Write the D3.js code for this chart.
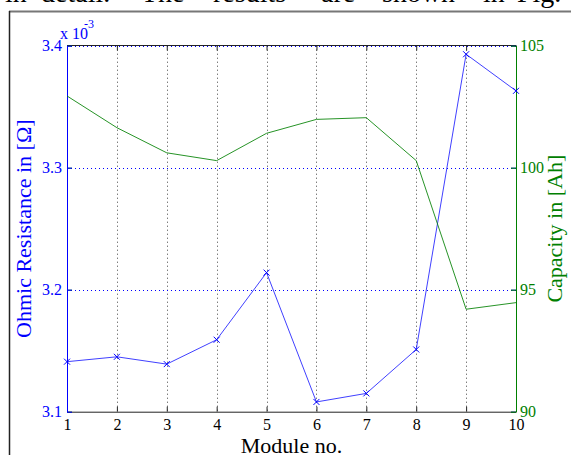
<!DOCTYPE html>
<html>
<head>
<meta charset="utf-8">
<script src="https://cdn.jsdelivr.net/npm/d3@7"></script>
<style>
  body { margin: 0; background: #fff; }
  svg { display: block; font-family: 'Liberation Serif', 'Times New Roman', serif; }
</style>
</head>
<body>
<svg class="chartSVG" width="571" height="455"></svg>
<script>
// module numbers and the two measured series
const modules = [1, 2, 3, 4, 5, 6, 7, 8, 9, 10];
const ohmic = [3.141, 3.145, 3.139, 3.159, 3.214, 3.108, 3.115, 3.151, 3.393, 3.363]; // x 10^-3 Ohm
const capacity = [102.94, 101.64, 100.61, 100.29, 101.41, 101.98, 102.05, 100.29, 94.2, 94.47]; // Ah

const ohmTicks = [3.1, 3.2, 3.3, 3.4];
const capTicks = [90, 95, 100, 105];

// words of the running text cut off above the figure
const headWords = [
  {w: 'in', x: 5}, {w: 'detail.', x: 41}, {w: 'The', x: 141}, {w: 'results', x: 213},
  {w: 'are', x: 321}, {w: 'shown', x: 382}, {w: 'in', x: 483}, {w: 'Fig.', x: 517}
];

const blue = '#0000ff';
const green = '#008000';

const svg = d3.select('svg.chartSVG');

const x = d3.scaleLinear().domain([1, 10]).range([67, 516]);
const yL = d3.scaleLinear().domain([3.1, 3.4]).range([411.7, 45.7]);
const yR = d3.scaleLinear().domain([90, 105]).range([411.7, 45.7]);

// page text cut by the crop
svg.append('g')
  .selectAll('text')
  .data(headWords)
  .enter()
  .append('text')
  .attr('x', d => d.x)
  .attr('y', 2)
  .style('font-size', '28px')
  .style('fill', '#000')
  .text(d => d.w);

// figure frame
svg.append('line').attr('x1', 9).attr('x2', 571).attr('y1', 11.5).attr('y2', 11.5)
  .style('stroke', '#777').style('stroke-width', 2);
svg.append('line').attr('x1', 9.5).attr('x2', 9.5).attr('y1', 11).attr('y2', 455)
  .style('stroke', '#222').style('stroke-width', 1.5);

// grid
const grid = svg.append('g').attr('class', 'grid');
grid.selectAll('line.vgrid')
  .data(modules.slice(1, -1))
  .enter()
  .append('line')
  .attr('x1', d => Math.round(x(d)) + 0.5)
  .attr('x2', d => Math.round(x(d)) + 0.5)
  .attr('y1', yL(3.4))
  .attr('y2', yL(3.1))
  .style('stroke', '#444')
  .style('stroke-dasharray', '1,3');

grid.selectAll('line.hgrid')
  .data(ohmTicks.slice(1))
  .enter()
  .append('line')
  .attr('x1', x(1))
  .attr('x2', x(10))
  .attr('y1', d => Math.round(yL(d)) + 0.5)
  .attr('y2', d => Math.round(yL(d)) + 0.5)
  .style('stroke', blue)
  .style('stroke-dasharray', '1,3');

// top border and top ticks
svg.append('line').attr('x1', x(1)).attr('x2', x(10)).attr('y1', 45.5).attr('y2', 45.5)
  .style('stroke', '#222');
svg.append('g')
  .attr('transform', 'translate(0,45.5)')
  .call(d3.axisTop(x).tickValues(modules).tickSize(-5).tickFormat(''))
  .call(g => g.select('.domain').remove())
  .selectAll('line').style('stroke', '#222');

// mirrored ticks of each y axis on the opposite side
svg.append('g')
  .attr('transform', `translate(${x(10)},0)`)
  .call(d3.axisRight(yL).tickValues(ohmTicks).tickSize(-5).tickFormat(''))
  .call(g => g.select('.domain').remove())
  .selectAll('line').style('stroke', blue);
svg.append('g')
  .attr('transform', `translate(${x(1)},0)`)
  .call(d3.axisLeft(yR).tickValues(capTicks).tickSize(-5).tickFormat(''))
  .call(g => g.select('.domain').remove())
  .selectAll('line').style('stroke', green);

// bottom axis
const xAxis = svg.append('g')
  .attr('transform', 'translate(0,411.7)')
  .call(d3.axisBottom(x).tickValues(modules).tickSize(-5).tickSizeOuter(0).tickPadding(7));
xAxis.select('.domain').style('stroke', '#222');
xAxis.selectAll('line').style('stroke', '#222');
xAxis.selectAll('text').style('font-size', '16px').style('fill', '#000')
  .style('font-family', "'Liberation Serif', serif");

// left axis
const lAxis = svg.append('g')
  .attr('transform', `translate(${x(1)},0)`)
  .call(d3.axisLeft(yL).tickValues(ohmTicks).tickFormat(d3.format('.1f'))
    .tickSize(-5).tickSizeOuter(0).tickPadding(5));
lAxis.select('.domain').style('stroke', blue);
lAxis.selectAll('line').style('stroke', blue);
lAxis.selectAll('text').style('font-size', '16px').style('fill', blue)
  .style('font-family', "'Liberation Serif', serif");

// right axis
const rAxis = svg.append('g')
  .attr('transform', `translate(${x(10)},0)`)
  .call(d3.axisRight(yR).tickValues(capTicks).tickSize(-5).tickSizeOuter(0).tickPadding(4));
rAxis.select('.domain').style('stroke', green);
rAxis.selectAll('line').style('stroke', green);
rAxis.selectAll('text').style('font-size', '16px').style('fill', green)
  .style('font-family', "'Liberation Serif', serif");

// series
const ohmLine = d3.line().x((d, i) => x(modules[i])).y(d => yL(d));
const capLine = d3.line().x((d, i) => x(modules[i])).y(d => yR(d));

svg.append('path')
  .datum(ohmic)
  .attr('d', ohmLine)
  .style('fill', 'none')
  .style('stroke', blue)
  .style('stroke-width', 1)
  .style('stroke-opacity', 0.75);

svg.append('g')
  .selectAll('path')
  .data(ohmic)
  .enter()
  .append('path')
  .attr('d', (d, i) => {
    const cx = x(modules[i]), cy = yL(d), s = 3;
    return `M${cx - s},${cy - s}L${cx + s},${cy + s}M${cx - s},${cy + s}L${cx + s},${cy - s}`;
  })
  .style('stroke', blue)
  .style('stroke-width', 1);

svg.append('path')
  .datum(capacity)
  .attr('d', capLine)
  .style('fill', 'none')
  .style('stroke', green)
  .style('stroke-width', 1)
  .style('stroke-opacity', 0.85);

// exponent label
svg.append('text').attr('x', 60).attr('y', 39)
  .style('font-size', '16px').style('fill', blue).text('x 10');
svg.append('text').attr('x', 84).attr('y', 28)
  .style('font-size', '12px').style('fill', blue).text('-3');

// axis titles
svg.append('text')
  .attr('transform', `translate(31,${(yL(3.1) + yL(3.4)) / 2}) rotate(-90)`)
  .style('text-anchor', 'middle')
  .style('font-size', '22px')
  .style('fill', blue)
  .text('Ohmic Resistance in [Ω]');

svg.append('text')
  .attr('transform', `translate(562,${(yR(90) + yR(105)) / 2}) rotate(-90)`)
  .style('text-anchor', 'middle')
  .style('font-size', '22px')
  .style('fill', green)
  .text('Capacity in [Ah]');

svg.append('text')
  .attr('x', (x(1) + x(10)) / 2)
  .attr('y', 453)
  .style('text-anchor', 'middle')
  .style('font-size', '22px')
  .style('fill', '#000')
  .text('Module no.');
</script>
</body>
</html>
